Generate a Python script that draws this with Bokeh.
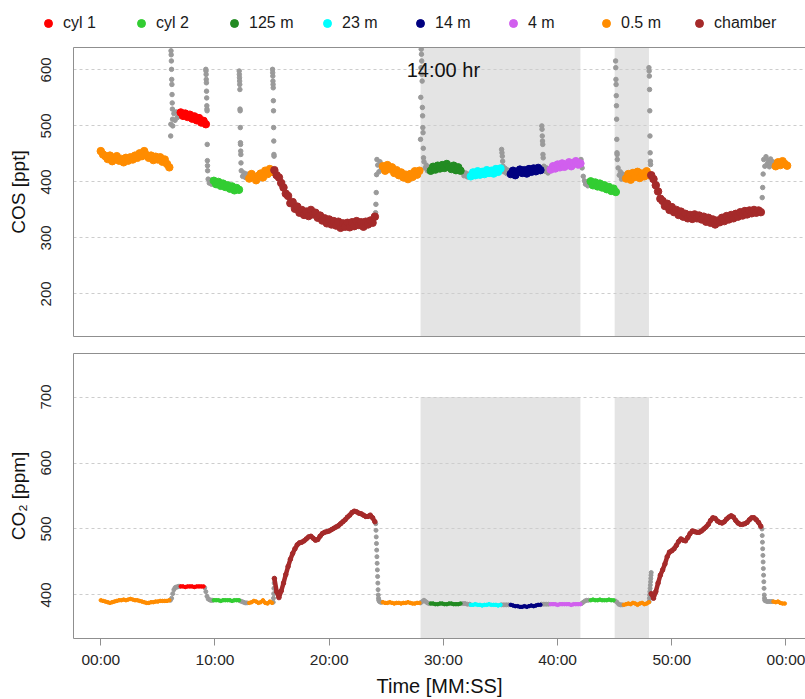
from bokeh.plotting import figure
from bokeh.models import (Range1d, FixedTicker, LinearAxis, BoxAnnotation,
                          Legend, LegendItem)
from bokeh.layouts import column
from bokeh.embed import file_html
from bokeh.resources import INLINE
from bokeh.core.properties import value

# ------------------------------------------------------------------ data
sources = ["cyl 1", "cyl 2", "125 m", "23 m", "14 m", "4 m", "0.5 m", "chamber"]
x_ticks = [0, 10, 20, 30, 40, 50, 60]
x_tick_labels = ["00:00", "10:00", "20:00", "30:00", "40:00", "50:00", "00:00"]
cos_ticks = [200, 300, 400, 500, 600]
co2_ticks = [400, 500, 600, 700]
shade_start = [28, 45]
shade_end = [42, 48]
shade_co2_top = 700
note_text = "14:00 hr"
note_time = 30
note_cos = 600

DT = 0.2  # sampling interval of the plotted measurement values [min]

# COS [ppt] measurement segments
cos_05m_a = [455, 449, 446, 441, 447, 437, 443, 446, 438, 441, 435, 443, 438, 444, 440, 447,
             443, 451, 446, 455, 448, 443, 447, 439, 445, 440, 444, 436, 440, 432, 426]
cos_cyl1 = [524, 518, 522, 516, 520, 513, 517, 510, 514, 506, 509, 503]
cos_cyl2_a = [402, 396, 400, 393, 397, 391, 394, 388, 392, 385, 389, 386]
cos_05m_b = [406, 414, 409, 403, 411, 415, 408, 420, 414, 423, 418]
cos_chamber_a = [421, 412, 408, 398, 390, 379, 375, 362, 364, 352, 356, 345, 350, 341, 347,
                 339, 350, 342, 345, 336, 340, 331, 335, 326, 333, 324, 330, 322, 329, 318,
                 326, 320, 327, 319, 328, 321, 330, 323, 328, 320, 329, 324, 331, 327, 338]
cos_05m_c = [428, 420, 430, 423, 426, 416, 421, 412, 417, 408, 413, 405, 414, 409, 419, 413, 420]
cos_125m = [420, 427, 422, 429, 424, 430, 425, 432, 427, 423, 429, 421, 426, 420]
cos_23m = [410, 417, 412, 419, 413, 418, 414, 421, 416, 420, 415, 423, 418, 424]
cos_14m = [414, 420, 412, 418, 422, 416, 421, 415, 423, 418, 424, 419, 425, 421]
cos_4m = [422, 428, 424, 431, 426, 433, 427, 430, 435, 428, 434, 437, 431, 433]
cos_cyl2_b = [401, 394, 399, 392, 397, 390, 394, 387, 391, 384, 388, 382]
cos_05m_d = [406, 414, 404, 416, 409, 418, 407, 415, 410, 419, 412]
cos_chamber_b = [412, 405, 394, 383, 370, 366, 357, 361, 350, 355,
                 346, 350, 341, 347, 338, 343, 335, 341, 334, 342,
                 335, 340, 333, 338, 329, 336, 327, 333, 324, 331,
                 328, 336, 330, 339, 333, 341, 335, 343, 338, 346,
                 340, 348, 342, 349, 344, 350, 345, 349, 346]
cos_05m_e = [428, 435, 430, 437, 432, 429]

cos_segments = [  # (source, start minute, step, values)
    ("0.5 m", 0.0, DT, cos_05m_a),
    ("cyl 1", 7.0, DT, cos_cyl1),
    ("cyl 2", 9.9, DT, cos_cyl2_a),
    ("0.5 m", 13.0, DT, cos_05m_b),
    ("chamber", 15.2, DT, cos_chamber_a),
    ("0.5 m", 24.7, DT, cos_05m_c),
    ("125 m", 28.9, DT, cos_125m),
    ("23 m", 32.4, DT, cos_23m),
    ("14 m", 35.9, DT, cos_14m),
    ("4 m", 39.4, DT, cos_4m),
    ("cyl 2", 42.9, DT, cos_cyl2_b),
    ("0.5 m", 46.0, DT, cos_05m_d),
    ("chamber", 48.2, DT, cos_chamber_b),
    ("0.5 m", 59.1, DT, cos_05m_e),
]

# COS [ppt] valve-switch transitions (start minute, step, values)
cos_transitions = [
    (6.12, 0.015, [482, 503, 634, 627, 616, 601, 583, 574, 556, 541, 530, 512]),
    (6.3, 0.1, [500, 522, 510, 525, 515, 523, 518, 521]),
    (9.2, 0.012, [601, 598, 592, 583, 577, 562, 550, 536, 530, 527, 467, 438, 429, 420]),
    (9.4, 0.1, [405, 398, 403, 396, 401, 399]),
    (12.12, 0.012, [598, 592, 586, 580, 574, 565, 530, 527, 497, 470, 467, 455, 449, 434]),
    (12.3, 0.12, [420, 410, 416, 408, 414, 411]),
    (15.04, 0.012, [601, 595, 589, 580, 574, 568, 545, 527, 497, 473, 449, 446]),
    (24.06, 0.03, [345, 360, 381, 413, 440]),
    (24.25, 0.1, [430, 418, 436, 422, 428]),
    (28.0, 0.02, [476, 551, 604, 637, 628, 616, 592, 580, 533, 518, 497, 488, 460, 443]),
    (28.3, 0.1, [436, 425, 430, 420, 426, 418]),
    (31.65, 0.15, [418, 411, 416, 409, 414]),
    (35.1, 0.03, [458, 452, 446, 437, 428]),
    (35.3, 0.12, [418, 424, 415, 421, 417]),
    (38.62, 0.02, [500, 494, 482, 473, 467, 449, 443]),
    (38.8, 0.12, [428, 419, 425, 416, 422]),
    (42.05, 0.1, [440, 425, 410, 402, 396, 400, 393, 398, 395]),
    (45.08, 0.015, [616, 604, 583, 574, 554, 536, 512, 476, 452, 449, 440]),
    (45.3, 0.1, [425, 412, 418, 405, 414, 408, 411]),
    (48.0, 0.018, [604, 598, 589, 565, 527, 482, 452, 437, 431]),
    (57.92, 0.04, [372, 390, 414]),
    (58.05, 0.1, [440, 428, 445, 432, 438, 427, 441, 433, 436, 430]),
]

# CO2 [ppm] measurement segments
co2_05m_a = [392, 391, 390, 389, 388, 389, 390, 391, 392, 392, 393, 392, 393, 394, 393, 392,
             392, 391, 390, 389, 388, 388, 389, 389, 390, 390, 391, 391, 391, 391, 392]
co2_cyl1 = [413, 413, 412, 413, 413, 413, 412, 413, 413, 413, 413]
co2_cyl2_a = [392, 392, 392, 391, 392, 392, 392, 392, 391, 392, 392, 392]
co2_05m_b = [388, 389, 391, 390, 388, 389, 392, 388, 387, 390, 388]
co2_chamber_a = [425, 405, 396, 406, 418, 431, 443, 454, 463, 470, 476, 479, 480, 482, 485,
                 488, 489, 486, 483, 484, 489, 493, 495, 496, 497, 499, 501, 503, 505, 508,
                 511, 514, 518, 521, 525, 527, 526, 524, 523, 521, 519, 519, 521, 517, 511]
co2_05m_c = [389, 388, 388, 389, 388, 387, 388, 388, 387, 388, 388, 389, 388, 387, 387, 388, 388]
co2_125m = [387, 387, 386, 386, 387, 387, 386, 386, 387, 387, 386, 386, 386, 387]
co2_23m = [385, 385, 386, 385, 385, 384, 385, 385, 386, 385, 385, 385, 384, 385]
co2_14m = [385, 384, 383, 383, 382, 382, 383, 382, 383, 384, 383, 384, 385, 385]
co2_4m = [386, 386, 386, 385, 386, 386, 386, 386, 386, 385, 386, 386, 386, 386]
co2_cyl2_b = [392, 393, 392, 392, 393, 392, 392, 392, 393, 392, 392]
co2_05m_d = [385, 386, 387, 386, 388, 387, 385, 387, 388, 386, 387, 389]
co2_chamber_b = [402, 395, 405, 418, 430, 438, 447, 458, 465, 467,
                 470, 475, 481, 485, 483, 482, 487, 493, 497, 496,
                 495, 495, 497, 500, 503, 507, 513, 517, 516, 512,
                 510, 509, 511, 515, 518, 520, 518, 513, 509, 507,
                 507, 508, 510, 514, 517, 517, 514, 510, 504]
co2_05m_e = [390, 389, 390, 388, 387, 387]

co2_segments = [
    ("0.5 m", 0.0, DT, co2_05m_a),
    ("cyl 1", 7.0, DT, co2_cyl1),
    ("cyl 2", 9.9, DT, co2_cyl2_a),
    ("0.5 m", 13.0, DT, co2_05m_b),
    ("chamber", 15.2, DT, co2_chamber_a),
    ("0.5 m", 24.7, DT, co2_05m_c),
    ("125 m", 28.9, DT, co2_125m),
    ("23 m", 32.4, DT, co2_23m),
    ("14 m", 35.9, DT, co2_14m),
    ("4 m", 39.4, DT, co2_4m),
    ("cyl 2", 42.9, DT, co2_cyl2_b),
    ("0.5 m", 45.8, DT, co2_05m_d),
    ("chamber", 48.2, DT, co2_chamber_b),
    ("0.5 m", 58.9, DT, co2_05m_e),
]

co2_transitions = [
    (6.1, 0.1, [392, 395, 402, 408, 411, 412, 412, 413, 413]),
    (9.1, 0.1, [411, 405, 398, 394, 393, 392, 392, 392]),
    (12.2, 0.15, [391, 390, 389, 388, 388]),
    (15.1, 0.02, [389, 395, 402, 410, 418, 425]),
    (24.08, 0.02, [508, 498, 488, 478, 468, 458, 448, 438, 428, 418, 408, 400, 395, 392]),
    (24.4, 0.1, [390, 389, 389]),
    (28.0, 0.15, [388, 390, 392, 390, 388, 387]),
    (31.7, 0.2, [387, 387, 386, 386]),
    (35.1, 0.2, [385, 385, 385, 385]),
    (38.6, 0.2, [386, 386, 386, 386]),
    (42.1, 0.15, [387, 389, 391, 392, 392]),
    (45.05, 0.15, [391, 389, 386, 385, 385]),
    (48.02, 0.02, [390, 395, 400, 405, 410, 415, 420, 425, 430, 434]),
    (57.9, 0.02, [500, 490, 480, 470, 460, 450, 440, 430, 420, 410, 400, 395, 392]),
    (58.2, 0.15, [391, 390, 390, 390, 390]),
]

# ------------------------------------------------------------------ style
FONT = "Liberation Sans"
FRAME = "#8f8f8f"
GRID = "#cdcdcd"
SHADE = "#e4e4e4"
TRANS = "#9a9a9a"
palette = {"cyl 1": "#FF0000", "cyl 2": "#32CD32", "125 m": "#228B22", "23 m": "#00FFFF",
           "14 m": "#000080", "4 m": "#D15FEE", "0.5 m": "#FF8C00", "chamber": "#A52A2A"}

X_RANGE = (-2.39, 61.71)


def times(t0, dt, n):
    return [round(t0 + i * dt, 4) for i in range(n)]


def border_axis(p, place):
    ax = LinearAxis(ticker=FixedTicker(ticks=[]), axis_line_color=FRAME,
                    major_tick_line_color=None, minor_tick_line_color=None,
                    major_label_text_font_size="0px", major_label_standoff=0)
    p.add_layout(ax, place)


def style_y(p, ticks, label):
    p.yaxis.ticker = FixedTicker(ticks=ticks)
    p.ygrid.ticker = FixedTicker(ticks=ticks)
    p.ygrid.grid_line_color = GRID
    p.ygrid.grid_line_dash = "3 3"
    p.yaxis.axis_line_color = FRAME
    p.yaxis.major_tick_line_color = None
    p.yaxis.minor_tick_line_color = None
    p.yaxis.major_label_orientation = "vertical"
    p.yaxis.major_label_text_font = FONT
    p.yaxis.major_label_text_font_size = "15px"
    p.yaxis.major_label_text_color = "#262626"
    p.yaxis.major_label_standoff = 16
    p.yaxis.axis_label = label
    p.yaxis.axis_label_text_font = FONT
    p.yaxis.axis_label_text_font_size = "19px"
    p.yaxis.axis_label_text_font_style = "normal"
    p.yaxis.axis_label_text_color = "#111111"
    p.yaxis.axis_label_standoff = 10
    p.outline_line_color = None


def shades(p, top=None):
    for a, b in zip(shade_start, shade_end):
        box = BoxAnnotation(left=a, right=b, top=top, fill_color=SHADE, fill_alpha=1.0,
                            line_color=None, level="image")
        p.add_layout(box)


# ------------------------------------------------------------------ legend strip
leg = figure(width=805, height=47, x_range=Range1d(0, 1), y_range=Range1d(0, 1),
             x_axis_type=None, y_axis_type=None, output_backend="svg",
             toolbar_location=None, min_border_left=0, min_border_right=0,
             min_border_top=0, min_border_bottom=0)
leg.frame_align = False
leg.outline_line_color = None
leg.grid.visible = False
items = []
for s in sources:
    r = leg.scatter(x=[-5], y=[-5], size=6, color=palette[s])
    items.append(LegendItem(label=s, renderers=[r]))
legend = Legend(items=items, orientation="horizontal", location=(38, 14),
                glyph_width=20, glyph_height=20, label_standoff=5, label_width=64,
                spacing=4, padding=0, margin=0, border_line_color=None,
                background_fill_alpha=0, label_text_font=FONT,
                label_text_font_size="16px", label_text_color="#1a1a1a")
leg.add_layout(legend, "center")

# ------------------------------------------------------------------ COS panel
p1 = figure(width=805, height=297, x_range=Range1d(*X_RANGE), y_range=Range1d(124, 640),
            x_axis_type=None, output_backend="svg", toolbar_location=None,
            min_border_left=73, min_border_right=0, min_border_top=0, min_border_bottom=8)
style_y(p1, cos_ticks, "COS [ppt]")
border_axis(p1, "above")
border_axis(p1, "below")
shades(p1)

for t0, dt, vals in cos_transitions:
    p1.scatter(times(t0, dt, len(vals)), vals, size=4.5, color=TRANS)
for src, t0, dt, vals in cos_segments:
    p1.scatter(times(t0, dt, len(vals)), vals, size=7.5, color=palette[src])

p1.text(x=[note_time], y=[note_cos], text=[note_text], text_font=value(FONT),
        text_font_size="20px", text_align="center", text_baseline="middle",
        text_color="#111111")

# ------------------------------------------------------------------ CO2 panel
p2 = figure(width=805, height=355, x_range=p1.x_range, y_range=Range1d(334, 766),
            output_backend="svg", toolbar_location=None,
            min_border_left=73, min_border_right=0, min_border_top=9, min_border_bottom=56)
style_y(p2, co2_ticks, "CO\u2082 [ppm]")
p2.xgrid.visible = False

xa = p2.below[0]
xa.ticker = FixedTicker(ticks=x_ticks)
xa.major_label_overrides = {t: lab for t, lab in zip(x_ticks, x_tick_labels)}
xa.axis_line_color = FRAME
xa.major_tick_line_color = FRAME
xa.major_tick_out = 7
xa.major_tick_in = 0
xa.minor_tick_line_color = None
xa.major_label_text_font = FONT
xa.major_label_text_font_size = "15.5px"
xa.major_label_text_color = "#262626"
xa.major_label_standoff = 5
xa.axis_label = "Time [MM:SS]"
xa.axis_label_text_font = FONT
xa.axis_label_text_font_size = "20px"
xa.axis_label_text_font_style = "normal"
xa.axis_label_text_color = "#111111"
xa.axis_label_standoff = 4

border_axis(p2, "above")
shades(p2, top=shade_co2_top)

for t0, dt, vals in co2_transitions:
    p2.scatter(times(t0, dt, len(vals)), vals, size=4, color=TRANS)
for src, t0, dt, vals in co2_segments:
    ts = times(t0, dt, len(vals))
    w = 4.5 if src == "chamber" else 3.5
    p2.line(ts, vals, line_width=w, color=palette[src])
    p2.scatter(ts, vals, size=w, color=palette[src])

layout = column(leg, p1, p2, spacing=0)
open("out.html", "w").write(file_html(layout, INLINE, title="COS and CO2"))
